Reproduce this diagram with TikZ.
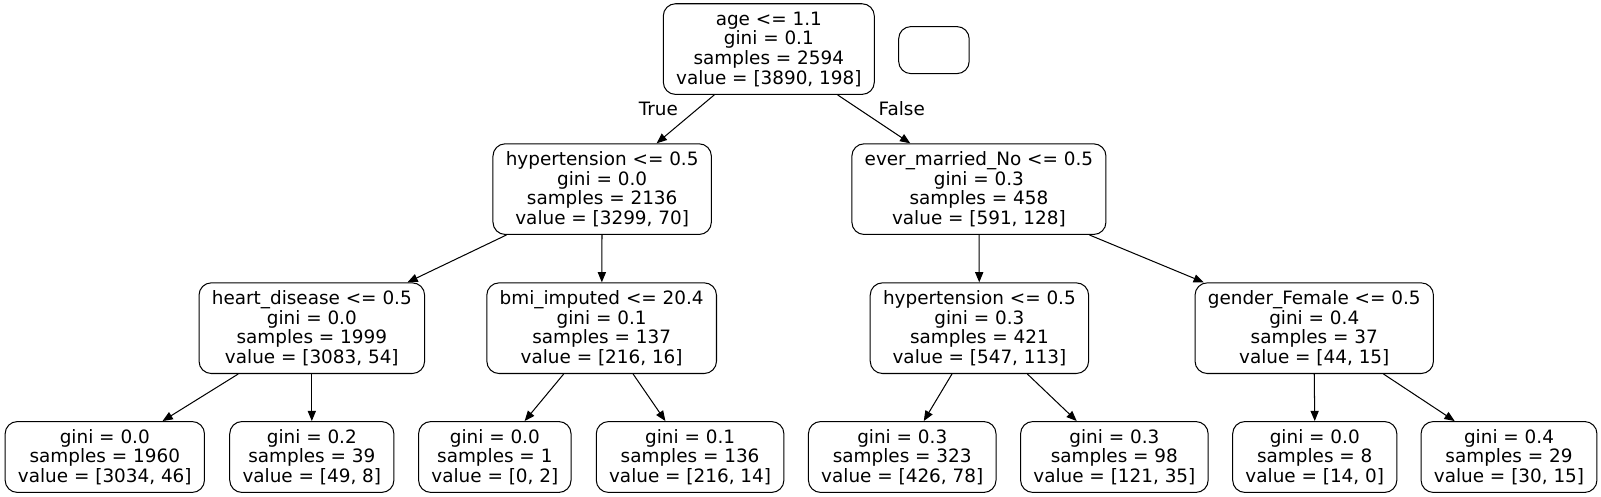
\documentclass[tikz,border=0pt]{standalone}
\usepackage{fontspec}
\setmainfont{DejaVu Sans}
\usetikzlibrary{arrows.meta}
\begin{document}
\begin{tikzpicture}[x=0.75pt,y=-0.75pt,
  tnode/.style={draw, rounded corners=9pt, line width=0.75pt, align=center,
    inner xsep=9.4pt, inner ysep=0pt, font=\fontsize{13.5}{14.4}\selectfont},
  innode/.style={tnode, minimum height=66.5pt},
  leaf/.style={tnode, minimum height=52pt},
  edge/.style={line width=0.75pt, -{Triangle[length=7.5pt,width=6pt]}},
  elabel/.style={font=\fontsize{13.5}{14.4}\selectfont, inner sep=0pt}]
\useasboundingbox (0,0) rectangle (1566,486);
\node[innode] (root) at (752,48) {age <= 1.1\\gini = 0.1\\samples = 2594\\value = [3890, 198]};
\node[tnode, minimum width=51.75pt, minimum height=34.5pt] (empty) at (913.5,49) {};
\node[innode] (h1) at (589,185) {hypertension <= 0.5\\gini = 0.0\\samples = 2136\\value = [3299, 70]};
\node[innode] (em) at (957.5,185) {ever\_married\_No <= 0.5\\gini = 0.3\\samples = 458\\value = [591, 128]};
\node[innode] (hd) at (305,321) {heart\_disease <= 0.5\\gini = 0.0\\samples = 1999\\value = [3083, 54]};
\node[innode] (bmi) at (588.5,321) {bmi\_imputed <= 20.4\\gini = 0.1\\samples = 137\\value = [216, 16]};
\node[innode] (h2) at (958,321) {hypertension <= 0.5\\gini = 0.3\\samples = 421\\value = [547, 113]};
\node[innode] (gf) at (1285.5,321) {gender\_Female <= 0.5\\gini = 0.4\\samples = 37\\value = [44, 15]};
\node[leaf] (l1) at (102.5,447) {gini = 0.0\\samples = 1960\\value = [3034, 46]};
\node[leaf] (l2) at (305,447) {gini = 0.2\\samples = 39\\value = [49, 8]};
\node[leaf] (l3) at (484,447) {gini = 0.0\\samples = 1\\value = [0, 2]};
\node[leaf] (l4) at (675,447) {gini = 0.1\\samples = 136\\value = [216, 14]};
\node[leaf] (l5) at (882.5,447) {gini = 0.3\\samples = 323\\value = [426, 78]};
\node[leaf] (l6) at (1090,447) {gini = 0.3\\samples = 98\\value = [121, 35]};
\node[leaf] (l7) at (1286,447) {gini = 0.0\\samples = 8\\value = [14, 0]};
\node[leaf] (l8) at (1476,447) {gini = 0.4\\samples = 29\\value = [30, 15]};
\node[elabel] (tl) at (644,106.5) {True};
\node[elabel] (fl) at (882,106.5) {False};
\draw[edge] (root) -- (h1);
\draw[edge] (root) -- (em);
\draw[edge] (h1) -- (hd);
\draw[edge] (h1) -- (bmi);
\draw[edge] (em) -- (h2);
\draw[edge] (em) -- (gf);
\draw[edge] (hd) -- (l1);
\draw[edge] (hd.south) -- (l2.north);
\draw[edge] (bmi) -- (l3);
\draw[edge] (bmi) -- (l4);
\draw[edge] (h2) -- (l5);
\draw[edge] (h2) -- (l6);
\draw[edge] (gf.south) -- (l7.north);
\draw[edge] (gf) -- (l8);
\end{tikzpicture}
\end{document}
